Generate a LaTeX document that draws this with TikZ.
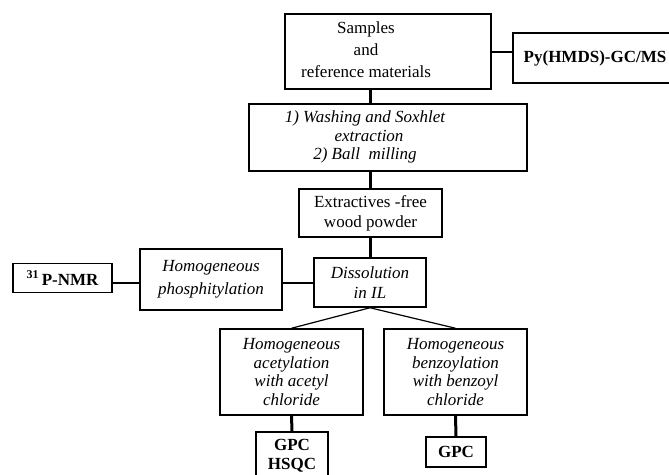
\documentclass[tikz,border=0pt]{standalone}
\usepackage{fontspec}
\setmainfont{Liberation Serif}
\begin{document}
\begin{tikzpicture}[x=1pt,y=-1pt,
  box/.style={draw,line width=1.5pt,align=center,inner sep=0pt,font=\fontsize{17}{18.5}\selectfont},
  ibox/.style={box,font=\fontsize{17}{18.5}\selectfont\itshape},
  bbox/.style={box,font=\fontsize{17}{19}\selectfont\bfseries},
  vlink/.style={line width=3pt},
  hlink/.style={line width=2pt},
  split/.style={line width=1.2pt}]
\useasboundingbox (0,0) rectangle (669,474);
\coordinate (spine) at (370,0);
\node[box,minimum width=206pt,minimum height=75pt] (samp) at (388,51.5)
  {\fontsize{17}{22}\selectfont\begin{tabular}{@{}c@{}}Samples\\and\\reference materials\end{tabular}\kern44pt};
\node[bbox,minimum width=164pt,minimum height=50pt] (py) at (595,58) {Py(HMDS)-GC/MS};
\node[ibox,minimum width=278pt,minimum height=67pt] (wash) at (388,137.5)
  {\begin{tabular}{@{}c@{}}1) Washing and Soxhlet\\\kern8pt extraction\\2) Ball~ milling\end{tabular}\kern46pt};
\node[box,minimum width=143pt,minimum height=48pt,font=\fontsize{17}{20}\selectfont] (extr) at (370.5,213) {Extractives -free\\wood powder};
\node[ibox,minimum width=112pt,minimum height=49pt,font=\fontsize{17}{20}\selectfont\itshape] (diss) at (370,282.5) {Dissolution\\in IL};
\node[ibox,minimum width=142pt,minimum height=61pt,font=\fontsize{17}{23}\selectfont\itshape] (phos) at (211,279.5) {Homogeneous\\phosphitylation};
\node[bbox,minimum width=99pt,minimum height=29pt] (nmr) at (62.5,278) {\textsuperscript{31}\,P-NMR};
\node[ibox,minimum width=143pt,minimum height=86pt] (acet) at (291.5,372) {Homogeneous\\acetylation\\with acetyl\\chloride};
\node[ibox,minimum width=143pt,minimum height=86pt] (benz) at (455.5,372) {Homogeneous\\benzoylation\\with benzoyl\\chloride};
\node[bbox,minimum width=72pt,minimum height=48pt] (gpca) at (292,456) {GPC\\HSQC};
\node[bbox,minimum width=60pt,minimum height=30pt] (gpcb) at (456,452) {GPC};
\draw[vlink] (samp.south -| spine) -- (wash.north -| spine);
\draw[vlink] (wash.south -| spine) -- (extr.north -| spine);
\draw[vlink] (extr.south -| spine) -- (diss.north -| spine);
\draw[hlink] (samp.east) -- (samp.east -| py.west);
\draw[hlink] (nmr.east |- diss.west) -- (phos.west |- diss.west);
\draw[hlink] (phos.east |- diss.west) -- (diss.west);
\draw[split] (diss.south) -- (acet.north);
\draw[split] (diss.south) -- (benz.north);
\draw[vlink] (acet.south) -- (gpca.north);
\draw[vlink] (benz.south) -- (gpcb.north);
\end{tikzpicture}
\end{document}
